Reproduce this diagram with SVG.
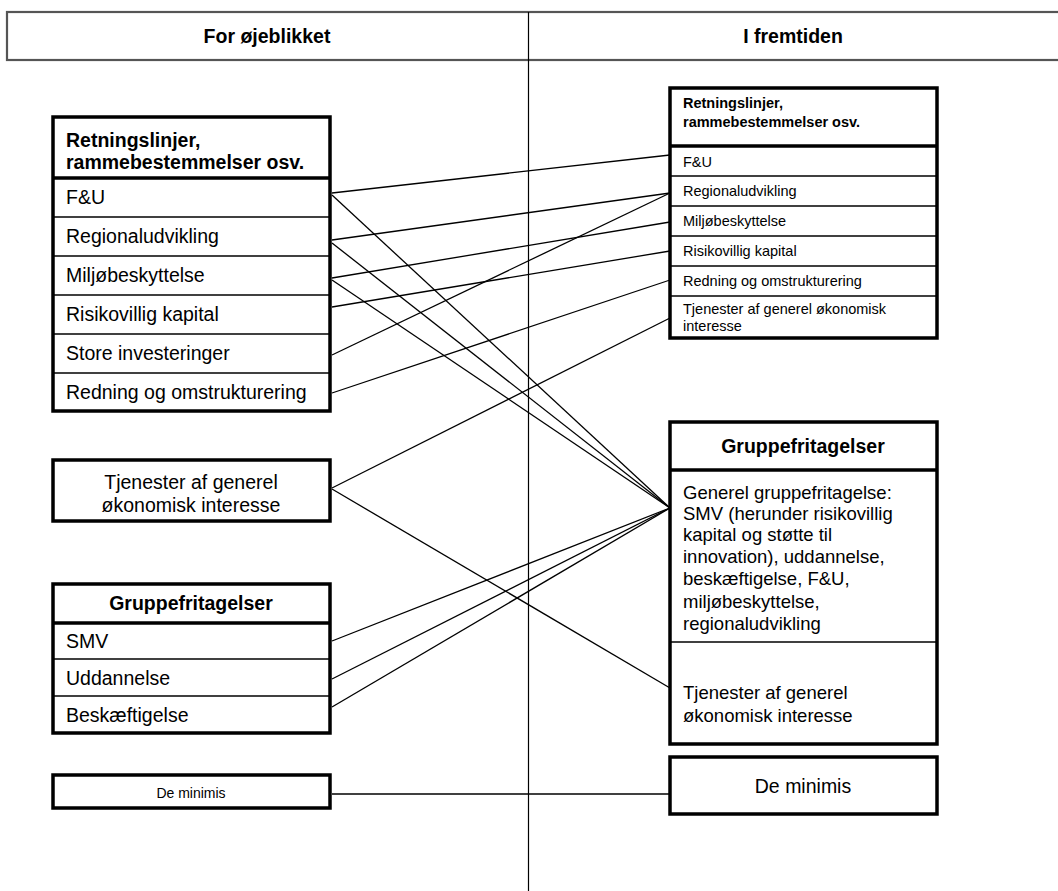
<svg xmlns="http://www.w3.org/2000/svg" width="1058" height="891" viewBox="0 0 1058 891">
<style>
text{font-family:"Liberation Sans",Arial,sans-serif;fill:#000}
.b{font-weight:bold}
.box{fill:#fff;stroke:#000;stroke-width:3.5}
.thick{stroke:#000;stroke-width:3.5}
.thin{stroke:#000;stroke-width:1.5}
.l{font-size:19.5px}
.r{font-size:14.5px}
.g{font-size:18.5px}
.c{text-anchor:middle}
#connectors line{stroke:#000;stroke-width:1.3}
</style>
<g id="header">
<rect x="7" y="12" width="1060" height="48" fill="#fff" stroke="#555" stroke-width="2.2"/>
<text class="b c" x="267" y="43" style="font-size:19.5px">For øjeblikket</text>
<text class="b c" x="793" y="43" style="font-size:19.5px">I fremtiden</text>
</g>
<line x1="528.5" y1="12" x2="528.5" y2="891" stroke="#000" stroke-width="1.2"/>
<g id="connectors">
<line x1="332" y1="193" x2="670" y2="155"/>
<line x1="332" y1="195" x2="670" y2="508"/>
<line x1="332" y1="240" x2="670" y2="193"/>
<line x1="332" y1="243" x2="670" y2="508"/>
<line x1="332" y1="278" x2="670" y2="222"/>
<line x1="332" y1="280" x2="670" y2="508"/>
<line x1="332" y1="307" x2="670" y2="251"/>
<line x1="332" y1="355" x2="670" y2="193"/>
<line x1="332" y1="393" x2="670" y2="280"/>
<line x1="332" y1="488" x2="670" y2="318"/>
<line x1="332" y1="489" x2="670" y2="688"/>
<line x1="332" y1="641" x2="670" y2="508"/>
<line x1="332" y1="679" x2="670" y2="508"/>
<line x1="332" y1="707" x2="670" y2="508"/>
<line x1="332" y1="794" x2="670" y2="794"/>
</g>
<g id="left-guidelines">
<rect class="box" x="53" y="117" width="277" height="294"/>
<line class="thick" x1="53" y1="178" x2="330" y2="178"/>
<line class="thin" x1="53" y1="217" x2="330" y2="217"/>
<line class="thin" x1="53" y1="256" x2="330" y2="256"/>
<line class="thin" x1="53" y1="295" x2="330" y2="295"/>
<line class="thin" x1="53" y1="334" x2="330" y2="334"/>
<line class="thin" x1="53" y1="373" x2="330" y2="373"/>
<text class="b l" x="66" y="147">Retningslinjer,</text>
<text class="b l" x="66" y="169">rammebestemmelser osv.</text>
<text class="l" x="66" y="204">F&amp;U</text>
<text class="l" x="66" y="243">Regionaludvikling</text>
<text class="l" x="66" y="282">Miljøbeskyttelse</text>
<text class="l" x="66" y="321">Risikovillig kapital</text>
<text class="l" x="66" y="360">Store investeringer</text>
<text class="l" x="66" y="399">Redning og omstrukturering</text>
</g>
<g id="left-tjenester">
<rect class="box" x="53" y="460" width="277" height="61"/>
<text class="l c" x="191" y="489">Tjenester af generel</text>
<text class="l c" x="191" y="512">økonomisk interesse</text>
</g>
<g id="left-gruppe">
<rect class="box" x="53" y="584" width="277" height="149"/>
<line class="thick" x1="53" y1="623" x2="330" y2="623"/>
<line class="thin" x1="53" y1="659" x2="330" y2="659"/>
<line class="thin" x1="53" y1="696" x2="330" y2="696"/>
<text class="b l c" x="191" y="610">Gruppefritagelser</text>
<text class="l" x="66" y="648">SMV</text>
<text class="l" x="66" y="685">Uddannelse</text>
<text class="l" x="66" y="722">Beskæftigelse</text>
</g>
<g id="left-deminimis">
<rect class="box" x="53" y="775" width="277" height="33"/>
<text class="c" x="191" y="798" style="font-size:14px">De minimis</text>
</g>
<g id="right-guidelines">
<rect class="box" x="670" y="88" width="267" height="250"/>
<line class="thick" x1="670" y1="146" x2="937" y2="146"/>
<line class="thin" x1="670" y1="176" x2="937" y2="176"/>
<line class="thin" x1="670" y1="206" x2="937" y2="206"/>
<line class="thin" x1="670" y1="236" x2="937" y2="236"/>
<line class="thin" x1="670" y1="266" x2="937" y2="266"/>
<line class="thin" x1="670" y1="296" x2="937" y2="296"/>
<text class="b r" x="683" y="108">Retningslinjer,</text>
<text class="b r" x="683" y="127">rammebestemmelser osv.</text>
<text class="r" x="683" y="167">F&amp;U</text>
<text class="r" x="683" y="196">Regionaludvikling</text>
<text class="r" x="683" y="226">Miljøbeskyttelse</text>
<text class="r" x="683" y="256">Risikovillig kapital</text>
<text class="r" x="683" y="286">Redning og omstrukturering</text>
<text class="r" x="683" y="314">Tjenester af generel økonomisk</text>
<text class="r" x="683" y="331">interesse</text>
</g>
<g id="right-gruppe">
<rect class="box" x="670" y="422" width="267" height="322"/>
<line class="thick" x1="670" y1="470" x2="937" y2="470"/>
<line class="thin" x1="670" y1="642" x2="937" y2="642"/>
<text class="b c" x="803" y="453" style="font-size:19.5px">Gruppefritagelser</text>
<text class="g" x="683" y="499">Generel gruppefritagelse:</text>
<text class="g" x="683" y="520">SMV (herunder risikovillig</text>
<text class="g" x="683" y="541">kapital og støtte til</text>
<text class="g" x="683" y="563">innovation), uddannelse,</text>
<text class="g" x="683" y="585">beskæftigelse, F&amp;U,</text>
<text class="g" x="683" y="608">miljøbeskyttelse,</text>
<text class="g" x="683" y="630">regionaludvikling</text>
<text class="g" x="683" y="699">Tjenester af generel</text>
<text class="g" x="683" y="722">økonomisk interesse</text>
</g>
<g id="right-deminimis">
<rect class="box" x="670" y="757" width="267" height="57"/>
<text class="c" x="803" y="793" style="font-size:19.5px">De minimis</text>
</g>
</svg>
